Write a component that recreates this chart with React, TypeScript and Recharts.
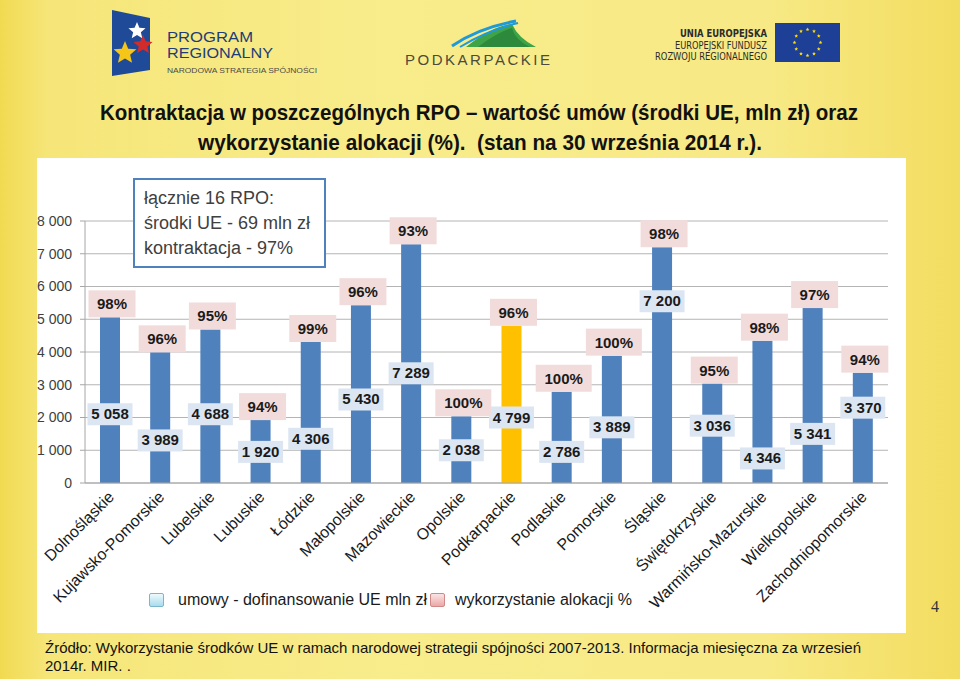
import { BarChart, Bar, XAxis, YAxis, CartesianGrid, Legend, LabelList, Cell } from 'recharts';

const regions = [
  'Dolnośląskie', 'Kujawsko-Pomorskie', 'Lubelskie', 'Lubuskie', 'Łódzkie', 'Małopolskie',
  'Mazowieckie', 'Opolskie', 'Podkarpackie', 'Podlaskie', 'Pomorskie', 'Śląskie',
  'Świętokrzyskie', 'Warmińsko-Mazurskie', 'Wielkopolskie', 'Zachodniopomorskie',
];
// umowy - dofinansowanie UE, mln zł
const umowy = [5058, 3989, 4688, 1920, 4306, 5430, 7289, 2038, 4799, 2786, 3889, 7200, 3036, 4346, 5341, 3370];
// wykorzystanie alokacji, %
const alokacja = [98, 96, 95, 94, 99, 96, 93, 100, 96, 100, 100, 98, 95, 98, 97, 94];
// level (mln zł) at which the value tag was left on the slide
const tagLevel = [2100, 1300, 2100, 950, 1350, 2550, 3350, 1000, 2000, 950, 1700, 5550, 1750, 750, 1500, 2300];
const yTicks = [0, 1000, 2000, 3000, 4000, 5000, 6000, 7000, 8000];
const seriesNames = ['umowy - dofinansowanie UE mln zł', 'wykorzystanie alokacji %'];
const highlight = 'Podkarpackie';

const titleLines = [
  'Kontraktacja w poszczególnych RPO – wartość umów (środki UE, mln zł) oraz',
  'wykorzystanie alokacji (%).  (stan na 30 września 2014 r.).',
];
const summaryLines = ['łącznie 16 RPO:', 'środki UE - 69 mln zł', 'kontraktacja - 97%'];
const sourceText =
  'Źródło: Wykorzystanie środków UE w ramach narodowej strategii spójności 2007-2013. Informacja miesięczna za wrzesień 2014r. MIR. .';

const data = regions.map((name, i) => ({ name, umowy: umowy[i], alokacja: alokacja[i] }));

const FONT = '"Liberation Sans", Arial, sans-serif';
const NARROW = '"DejaVu Sans Condensed", "Liberation Sans", sans-serif';

const fmt = (v: number) => String(v).replace(/\B(?=(\d{3})+(?!\d))/g, ' ');

const ValueTag = (props: any) => {
  const { x, y, width, height, value } = props;
  const i = typeof props.index === 'number' ? props.index : umowy.indexOf(Number(value));
  const bottom = Number(y) + Number(height);
  const cy = bottom - (Number(height) * tagLevel[i]) / umowy[i];
  const label = fmt(umowy[i]);
  const w = label.length * 7.8 + 6;
  const cx = Number(x) + Number(width) / 2;
  return (
    <g>
      <rect x={cx - w / 2} y={cy - 11} width={w} height={22} fill="#dce6f2" />
      <text x={cx} y={cy + 5} textAnchor="middle" fontFamily={FONT} fontSize={15} fontWeight="bold" fill="#1a1a1a">
        {label}
      </text>
    </g>
  );
};

const PercentTag = (props: any) => {
  const { x, y, width, value } = props;
  const label = `${value}%`;
  const w = label.length * 9 + 20;
  const cx = Number(x) + Number(width) / 2 + 2;
  const top = Number(y) - 27;
  return (
    <g>
      <rect x={cx - w / 2} y={top} width={w} height={27} fill="#f2dcdb" />
      <text x={cx} y={top + 19} textAnchor="middle" fontFamily={FONT} fontSize={15} fontWeight="bold" fill="#1a1a1a">
        {label}
      </text>
    </g>
  );
};

const RegionTick = (props: any) => {
  const { x, y, payload } = props;
  const px = Number(x) + 5;
  const py = Number(y) + 15;
  return (
    <text x={px} y={py} transform={`rotate(-45 ${px} ${py})`} textAnchor="end" fontFamily={FONT} fontSize={16} fill="#1a1a1a">
      {payload.value}
    </text>
  );
};

const NoLabel = () => <g />;

const LegendBox = () => (
  <div style={{ display: 'flex', alignItems: 'center', height: 20, fontFamily: FONT, fontSize: 16, color: '#1a1a1a', whiteSpace: 'nowrap' }}>
    <span style={{ width: 13, height: 12, border: '1px solid #7db6cc', borderRadius: 2, background: 'linear-gradient(#effafd, #a8dcec)', marginRight: 14 }} />
    <span style={{ marginRight: 3 }}>{seriesNames[0]}</span>
    <span style={{ width: 13, height: 12, border: '1px solid #d08888', borderRadius: 2, background: 'linear-gradient(#fbe4e4, #eaa9a8)', marginRight: 10 }} />
    <span>{seriesNames[1]}</span>
  </div>
);

const star = (cx: number, cy: number, r: number) => {
  const pts: string[] = [];
  for (let k = 0; k < 10; k++) {
    const a = -Math.PI / 2 + (k * Math.PI) / 5;
    const rr = k % 2 === 0 ? r : r * 0.45;
    pts.push(`${cx + rr * Math.cos(a)},${cy + rr * Math.sin(a)}`);
  }
  return pts.join(' ');
};

const Header = () => (
  <svg width={960} height={158} style={{ position: 'absolute', left: 0, top: 0 }}>
    {/* Program Regionalny */}
    <polygon points="112,10 150,18 150,70 112,76" fill="#1f4a98" />
    <polygon points={star(137, 31, 9)} fill="#ffffff" />
    <polygon points={star(143, 45, 10)} fill="#d22b2b" />
    <polygon points={star(125, 53, 12)} fill="#f5c518" />
    <text x={167} y={42} fontFamily={FONT} fontSize={15} fill="#1e3d78" textLength={86} lengthAdjust="spacingAndGlyphs">PROGRAM</text>
    <text x={167} y={58} fontFamily={FONT} fontSize={15} fill="#1e3d78" textLength={106} lengthAdjust="spacingAndGlyphs">REGIONALNY</text>
    <text x={167} y={73} fontFamily={FONT} fontSize={8} fill="#4a4a4a" textLength={150} lengthAdjust="spacingAndGlyphs">NARODOWA STRATEGIA SPÓJNOŚCI</text>
    {/* Podkarpackie */}
    <path d="M466,47 Q492,26 512,24 Q518,38 536,47 Z" fill="#3ea447" />
    <path d="M478,47 Q498,32 512,28 Q515,40 530,47 Z" fill="#2d8a3c" />
    <path d="M452,46 Q478,28 516,21" stroke="#1f9ad8" strokeWidth={3} fill="none" />
    <path d="M460,47 Q486,31 518,23" stroke="#1f9ad8" strokeWidth={2} fill="none" />
    <text x={405} y={65} fontFamily={FONT} fontSize={15} fill="#4c4a3c" textLength={145} lengthAdjust="spacing">PODKARPACKIE</text>
    {/* Unia Europejska */}
    <text x={680} y={37} fontFamily={NARROW} fontSize={10} fontWeight="bold" fill="#2b2b2b" textLength={87} lengthAdjust="spacingAndGlyphs">UNIA EUROPEJSKA</text>
    <text x={675} y={49} fontFamily={NARROW} fontSize={10} fill="#2b2b2b" textLength={92} lengthAdjust="spacingAndGlyphs">EUROPEJSKI FUNDUSZ</text>
    <text x={655} y={60} fontFamily={NARROW} fontSize={10} fill="#2b2b2b" textLength={112} lengthAdjust="spacingAndGlyphs">ROZWOJU REGIONALNEGO</text>
    <rect x={775} y={23} width={65} height={39} fill="#1d3f96" />
    {Array.from({ length: 12 }, (_, k) => {
      const a = (k * Math.PI) / 6;
      return <polygon key={k} points={star(807.5 + 13 * Math.cos(a), 42.5 + 13 * Math.sin(a), 2)} fill="#ffdd00" />;
    })}
    {/* title */}
    <text x={100} y={120} fontFamily={FONT} fontSize={22} fontWeight="bold" fill="#111" textLength={758} lengthAdjust="spacingAndGlyphs">
      {titleLines[0]}
    </text>
    <text x={198} y={150} fontFamily={FONT} fontSize={22} fontWeight="bold" fill="#111" textLength={564} lengthAdjust="spacingAndGlyphs" style={{ whiteSpace: 'pre' }}>
      {titleLines[1]}
    </text>
  </svg>
);

const App = () => {
  return (
    <div
      style={{
        position: 'relative',
        width: 960,
        height: 679,
        overflow: 'hidden',
        background: 'linear-gradient(90deg, #f1da52 0%, #f6e679 5%, #f8ec8b 40%, #f7e985 80%, #f3dd60 100%)',
      }}
    >
      <style>{'body{margin:0}'}</style>
      <Header />

      <div style={{ position: 'absolute', left: 37, top: 158, width: 869, height: 475, background: '#fff' }}>
        <BarChart width={869} height={475} data={data} margin={{ top: 63, right: 18, left: 0, bottom: 23 }}>
          <CartesianGrid vertical={false} stroke="#b4b4b4" />
          <XAxis xAxisId="bounds" type="number" domain={[0, 16]} ticks={regions.map((_, i) => i).concat(16)} height={0} tick={<NoLabel />} tickSize={5} stroke="#a6a6a6" axisLine={false} />
          <XAxis dataKey="name" interval={0} height={107} tickLine={false} tickSize={0} tickMargin={0} tick={<RegionTick />} stroke="#a6a6a6" />
          <YAxis domain={[0, 8000]} ticks={yTicks} width={48} tickSize={5} tickMargin={8} tickFormatter={fmt} stroke="#a6a6a6" tick={{ fill: '#404040', fontSize: 14, fontFamily: FONT }} />
          <Legend verticalAlign="bottom" content={<LegendBox />} wrapperStyle={{ left: 112, width: 560, height: 20 }} />
          <Bar dataKey="umowy" name={seriesNames[0]} barSize={20} isAnimationActive={false}>
            {data.map((d) => (
              <Cell key={d.name} fill={d.name === highlight ? '#ffc000' : '#4f81bd'} />
            ))}
            <LabelList dataKey="umowy" content={<ValueTag />} />
            <LabelList dataKey="alokacja" content={<PercentTag />} />
          </Bar>
        </BarChart>

        <div
          style={{
            position: 'absolute',
            left: 96,
            top: 20,
            width: 193,
            height: 90,
            border: '2px solid #4f81bd',
            background: '#fff',
            fontFamily: FONT,
            fontSize: 18,
            lineHeight: '25px',
            color: '#404040',
            padding: '6px 0 0 9px',
            boxSizing: 'border-box',
          }}
        >
          {summaryLines.map((t) => (
            <div key={t}>{t}</div>
          ))}
        </div>
      </div>

      <div style={{ position: 'absolute', left: 931, top: 598, fontFamily: 'serif', fontSize: 16, color: '#333' }}>4</div>

      <div
        style={{
          position: 'absolute',
          left: 45,
          top: 639,
          width: 830,
          fontFamily: FONT,
          fontSize: 15,
          lineHeight: '18px',
          color: '#111',
        }}
      >
        {sourceText}
      </div>
    </div>
  );
};

export default App;
